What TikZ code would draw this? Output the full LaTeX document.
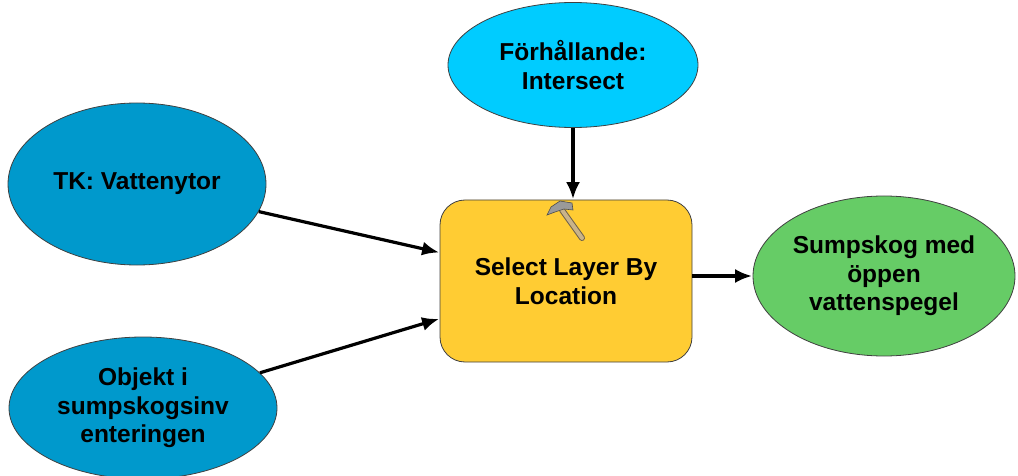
\documentclass[tikz,border=0pt]{standalone}
\usepackage{fontspec}
\setmainfont{Liberation Sans}
\usetikzlibrary{shapes.geometric,arrows.meta}
\definecolor{cyanfill}{HTML}{00CCFF}
\definecolor{bluefill}{HTML}{0099CC}
\definecolor{greenfill}{HTML}{66CC66}
\definecolor{yellowfill}{HTML}{FFCC33}
\definecolor{outline}{HTML}{404040}
\definecolor{handlecol}{HTML}{C9B38A}
\definecolor{headcol}{HTML}{9A9A9A}
\tikzset{
  lbl/.style={font=\fontsize{24.5}{28.5}\selectfont\bfseries, align=center, text=black},
  dataell/.style={ellipse, draw=outline, line width=0.8pt, inner sep=0pt, lbl},
  toolbox/.style={rectangle, rounded corners=25pt, draw=outline, line width=0.8pt, fill=yellowfill, inner sep=0pt, lbl},
  conn/.style={draw=black, line width=3.2pt, -{Latex[length=17pt,width=14pt]}, shorten >=0.5pt}
}
\begin{document}
\begin{tikzpicture}[x=1pt,y=-1pt]
\useasboundingbox (0,0) rectangle (1018,476);
\node[dataell, fill=cyanfill, minimum width=250pt, minimum height=125pt] (intersect) at (573,65) {Förhållande:\\Intersect};
\node[dataell, fill=bluefill, minimum width=258pt, minimum height=162pt] (tk) at (137,184) {TK: Vattenytor};
\node[dataell, fill=bluefill, minimum width=268pt, minimum height=142pt] (obj) at (143,408) {Objekt i\\sumpskogsinv\\enteringen};
\node[toolbox, minimum width=252pt, minimum height=162pt] (sel) at (566,281) {Select Layer By\\Location};
\node[dataell, fill=greenfill, minimum width=262pt, minimum height=160pt] (out) at (884,276) {Sumpskog med\\öppen\\vattenspegel};
% hammer icon
\draw[line width=6pt, line cap=round, color=handlecol!55!black] (562,210) -- (582,238);
\draw[line width=4pt, line cap=round, color=handlecol] (562,210) -- (582,238);
\filldraw[fill=headcol, draw=black!70, line width=0.6pt] (547,215) -- (551,207) -- (560,201) -- (572,203) -- (573,210) -- (564,209) -- (555,212) -- cycle;
% connectors
\draw[conn] (tk) -- (sel);
\draw[conn] (obj) -- (sel);
\draw[conn] (intersect.south) -- (intersect.south |- sel.north);
\draw[conn] (out.west -| sel.east) -- (out.west);
\end{tikzpicture}
\end{document}
